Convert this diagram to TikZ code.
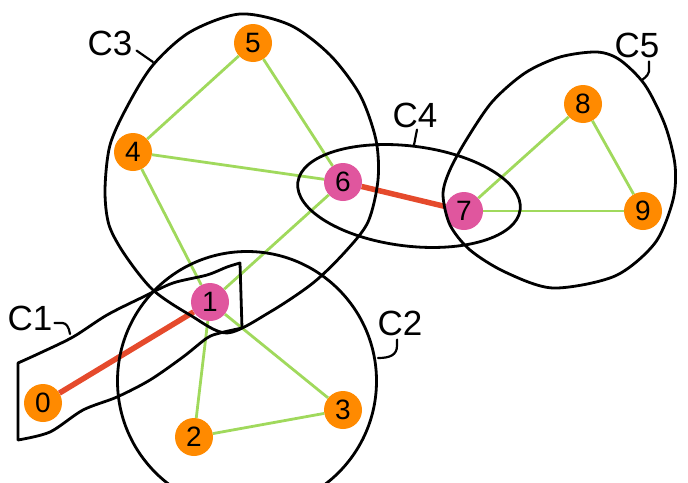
\documentclass[tikz,border=0pt]{standalone}
\usepackage{fontspec}
\setmainfont{Liberation Sans}
\definecolor{vorange}{HTML}{FF8A00}
\definecolor{vpink}{HTML}{E0569E}
\definecolor{egreen}{HTML}{A0D95C}
\definecolor{ered}{HTML}{E54A2C}
\tikzset{
  vert/.style={circle, fill=vorange, minimum size=38pt, inner sep=0pt, font=\fontsize{28}{28}\selectfont},
  cutvert/.style={vert, fill=vpink},
  link/.style={egreen, line width=2.8pt},
  bridge/.style={ered, line width=5.5pt},
  hull/.style={black, line width=2.8pt, line join=round, line cap=round},
  tag/.style={inner sep=0pt, font=\fontsize{35}{35}\selectfont},
}

\begin{document}
\begin{tikzpicture}[x=1pt, y=-1pt]
			%%%%% START %%%%%
			\useasboundingbox (0,0) rectangle (688,482);
			\clip (0,0) rectangle (688,482);
			
			\node[vert] (n0) at (43,403) {0};
			\node[cutvert] (n1) at (210,302) {1};
			\node[vert] (n2) at (194,437) {2};
			\node[vert] (n3) at (343,410) {3};
			\node[vert] (n4) at (133,152) {4};
			\node[vert] (n5) at (253,43) {5};
			\node[cutvert] (n6) at (343,182) {6};
			\node[cutvert] (n7) at (464,211) {7};
			\node[vert] (n8) at (583,104) {8};
			\node[vert] (n9) at (643,211) {9};
			
			\draw[bridge] (n0) -- (n1);
			\draw[bridge] (n6) -- (n7);
			\draw[link] (n1) -- (n2);
			\draw[link] (n1) -- (n3);
			\draw[link] (n2) -- (n3);
			\draw[link] (n1) -- (n4);
			\draw[link] (n1) -- (n6);
			\draw[link] (n4) -- (n5);
			\draw[link] (n4) -- (n6);
			\draw[link] (n5) -- (n6);
			\draw[link] (n7) -- (n8);
			\draw[link] (n7) -- (n9);
			\draw[link] (n8) -- (n9);
			
			% C1
			\draw[hull] (18,440) -- (18,363) -- plot[smooth] coordinates {(18,363) (40,353) (73,337) (107,315) (143,297) (173,283) (207,275) (227,267) (240,263)}
				-- (242,328) -- plot[smooth] coordinates {(242,328) (220,333) (207,338) (183,357) (150,380) (117,397) (83,410) (50,432) (18,440)};
			% C2
			\draw[hull] (247,381) circle [radius=129.5];
			% C3
			\draw[hull] plot[smooth cycle] coordinates {(105,190) (110,145) (128,105) (153,65) (190,32) (240,14) (290,25) (330,55) (360,95) (376,140) (378,180) (368,222) (345,252) (313,283) (270,312) (227,333) (190,315) (153,290) (125,255) (109,225)};
			% C4
			\draw[hull, shift={(409,196)}, rotate=-7] (0,0) ellipse [x radius=112, y radius=50];
			% C5
			\draw[hull] plot[smooth cycle] coordinates {(443,195) (450,225) (470,250) (505,272) (553,288) (615,276) (655,243) (673,200) (675,165) (665,125) (645,85) (620,60) (597,52) (560,57) (525,73) (492,102) (465,142) (449,172)};
			
			\node[tag] (c1) at (30,318) {C1};
			\node[tag] (c2) at (400,323) {C2};
			\node[tag] (c3) at (110,43) {C3};
			\node[tag] (c4) at (415,115) {C4};
			\node[tag] (c5) at (637,45) {C5};
			
			\coordinate (h1) at (70,334);
			\coordinate (h2) at (378,358);
			\coordinate (h3) at (153,62);
			\coordinate (h4) at (414,145);
			\coordinate (h5) at (642,80);
			
			\draw[hull, line width=2.2pt] ([xshift=2pt,yshift=-5pt]c1.east) -- ++(8,0) .. controls (66,323) and (69,327) .. (h1);
			\draw[hull, line width=2.2pt] ([xshift=-3pt,yshift=-4pt]c2.south) -- ++(0,6) .. controls (397,355) and (390,358) .. (h2);
			\draw[hull, line width=2.2pt] ([xshift=4pt,yshift=5pt]c3.south east) -- (h3);
			\draw[hull, line width=2.2pt] ([xshift=2pt,yshift=-2pt]c4.south) -- (h4);
			\draw[hull, line width=2.2pt] ([xshift=12pt,yshift=-4pt]c5.south) -- ++(0,6) .. controls (650,74) and (646,77) .. (h5);
			
			%%%%% END %%%%%
		\end{tikzpicture}
\end{document}
